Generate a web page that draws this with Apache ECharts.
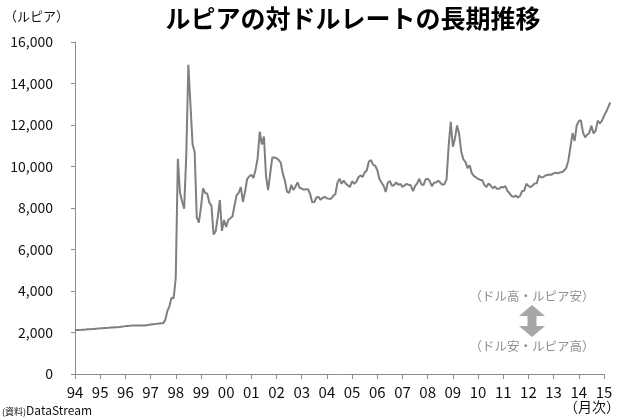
<!DOCTYPE html>
<html>
<head>
<meta charset="utf-8">
<style>
  html, body { margin: 0; padding: 0; background: #fff; }
  #chart { width: 622px; height: 419px; }
</style>
<script src="https://cdn.jsdelivr.net/npm/echarts@6/dist/echarts.min.js"></script>
</head>
<body>
<div id="chart"></div>
<script>
// Rupiah per US dollar, one value per month starting January 1994
const firstYear = 1994;
const rates1994to1999 = [
  2110, 2118, 2125, 2131, 2138, 2145, 2153, 2160, 2166, 2173, 2180, 2187,
  2200, 2207, 2215, 2222, 2228, 2237, 2242, 2251, 2257, 2264, 2275, 2284,
  2308, 2316, 2325, 2336, 2334, 2341, 2343, 2336, 2339, 2341, 2349, 2357,
  2383, 2396, 2406, 2419, 2433, 2442, 2450, 2599, 3035, 3275, 3670, 3648,
  4650, 10375, 8750, 8325, 7970, 10525, 14900, 13000, 11075, 10700, 7550, 7300,
  8025, 8950, 8730, 8685, 8260, 8105, 6726, 6875, 7565, 8386, 6900, 7425
];
const rates2000to2009 = [
  7085, 7425, 7505, 7590, 8130, 8620, 8735, 9003, 8290, 8780, 9395, 9530,
  9595, 9450, 9835, 10400, 11675, 11058, 11440, 9525, 8865, 9675, 10435, 10430,
  10400, 10320, 10189, 9655, 9316, 8785, 8730, 9108, 8867, 9015, 9233, 8976,
  8940, 8876, 8905, 8908, 8675, 8279, 8285, 8505, 8535, 8389, 8495, 8537,
  8465, 8441, 8447, 8587, 8661, 9210, 9415, 9168, 9328, 9170, 9090, 9018,
  9290, 9165, 9260, 9480, 9570, 9495, 9713, 9819, 10240, 10310, 10090, 10035,
  9830, 9395, 9230, 9075, 8775, 9220, 9300, 9070, 9100, 9235, 9110, 9165,
  9020, 9090, 9160, 9118, 9083, 8815, 9054, 9186, 9410, 9137, 9103, 9376,
  9419, 9291, 9051, 9217, 9234, 9318, 9225, 9118, 9153, 9378, 10995, 12151,
  10950, 11355, 11980, 11575, 10713, 10340, 10225, 9920, 10060, 9681, 9545, 9480
];
const rates2010to2015 = [
  9400, 9365, 9335, 9115, 9012, 9180, 9083, 8952, 9041, 8924, 8928, 9013,
  8991, 9057, 8823, 8709, 8574, 8537, 8597, 8508, 8578, 8823, 8835, 9170,
  9068, 9000, 9085, 9180, 9190, 9565, 9480, 9485, 9560, 9588, 9615, 9605,
  9670, 9698, 9667, 9719, 9722, 9802, 9929, 10278, 10924, 11613, 11234, 11977,
  12189, 12226, 11634, 11404, 11532, 11611, 11969, 11591, 11717, 12212, 12082, 12196,
  12440, 12625, 12863, 13084
];
const yAxisRange = [0, 16000, 2000];
const xAxisRange = [1994, 2015, 1];

const allRates = rates1994to1999.concat(rates2000to2009, rates2010to2015);
const seriesData = allRates.map((v, i) => [firstYear + i / 12, v]);
const lastX = seriesData[seriesData.length - 1][0];

const FONT = '"Noto Sans CJK JP", "Noto Sans", sans-serif';
const axisGray = '#8c8c8c';

// plot area: the visible axes end at 2015; the line itself runs a few months past it
const plotLeft = 75, plotTop = 42, plotBottom = 45, axisRight = 18;
const pxPerYear = (622 - plotLeft - axisRight) / (xAxisRange[1] - xAxisRange[0]);
const lineRight = axisRight - (lastX - xAxisRange[1]) * pxPerYear;

// double-headed vertical arrow between the two annotation captions
const arrowCx = 532, arrowTop = 305, arrowBottom = 337;
const headW = 13, headH = 11, shaftW = 4.5;
const arrowPoints = [
  [arrowCx, arrowTop],
  [arrowCx + headW, arrowTop + headH],
  [arrowCx + shaftW, arrowTop + headH],
  [arrowCx + shaftW, arrowBottom - headH],
  [arrowCx + headW, arrowBottom - headH],
  [arrowCx, arrowBottom],
  [arrowCx - headW, arrowBottom - headH],
  [arrowCx - shaftW, arrowBottom - headH],
  [arrowCx - shaftW, arrowTop + headH],
  [arrowCx - headW, arrowTop + headH]
];

const chart = echarts.init(document.getElementById('chart'), null, { renderer: 'canvas' });
chart.setOption({
  animation: false,
  backgroundColor: '#ffffff',
  grid: [
    { left: plotLeft, right: axisRight, top: plotTop, bottom: plotBottom, containLabel: false },
    { left: plotLeft, right: lineRight, top: plotTop, bottom: plotBottom, containLabel: false }
  ],
  xAxis: [{
    type: 'value',
    gridIndex: 0,
    min: xAxisRange[0],
    max: xAxisRange[1],
    interval: xAxisRange[2],
    axisLine: { show: true, lineStyle: { color: axisGray, width: 1 } },
    axisTick: { show: true, length: 5, lineStyle: { color: axisGray } },
    splitLine: { show: false },
    axisLabel: {
      margin: 11,
      color: '#111',
      fontSize: 15,
      fontFamily: FONT,
      formatter: v => String(Math.round(v) % 100).padStart(2, '0')
    }
  }, {
    type: 'value',
    gridIndex: 1,
    min: xAxisRange[0],
    max: lastX,
    show: false
  }],
  yAxis: [{
    type: 'value',
    gridIndex: 0,
    min: yAxisRange[0],
    max: yAxisRange[1],
    interval: yAxisRange[2],
    axisLine: { show: true, lineStyle: { color: axisGray, width: 1 } },
    axisTick: { show: true, length: 4, lineStyle: { color: axisGray } },
    splitLine: { show: false },
    axisLabel: {
      margin: 22,
      color: '#111',
      fontSize: 14,
      fontFamily: FONT,
      formatter: v => v.toLocaleString('en-US')
    }
  }, {
    type: 'value',
    gridIndex: 1,
    min: yAxisRange[0],
    max: yAxisRange[1],
    show: false
  }],
  series: [{
    type: 'line',
    xAxisIndex: 1,
    yAxisIndex: 1,
    data: seriesData,
    showSymbol: false,
    lineStyle: { color: '#7f7f7f', width: 2 },
    itemStyle: { color: '#7f7f7f' }
  }],
  graphic: [
    { type: 'text', x: 353, y: 18, style: {
      text: 'ルピアの対ドルレートの長期推移', fill: '#000', align: 'center', verticalAlign: 'middle',
      font: 'bold 25px ' + FONT } },
    { type: 'text', left: 4, top: 10, style: {
      text: '（ルピア）', fill: '#111', font: '13px ' + FONT } },
    { type: 'text', right: 2, top: 400, style: {
      text: '（月次）', fill: '#111', font: '14px ' + FONT } },
    { type: 'text', left: 2, top: 404, style: {
      text: '{s|(資料)}{b|DataStream}', fill: '#111',
      rich: {
        s: { fontSize: 9, fontFamily: FONT, fill: '#111', verticalAlign: 'bottom' },
        b: { fontSize: 12, fontFamily: FONT, fill: '#111' }
      } } },
    { type: 'text', x: 532, y: 296, style: {
      text: '（ドル高・ルピア安）', fill: '#8f8f8f', align: 'center', verticalAlign: 'middle',
      font: '12.5px ' + FONT } },
    { type: 'text', x: 532, y: 346, style: {
      text: '（ドル安・ルピア高）', fill: '#8f8f8f', align: 'center', verticalAlign: 'middle',
      font: '12.5px ' + FONT } },
    { type: 'polygon', shape: { points: arrowPoints }, style: { fill: '#a6a6a6' } }
  ]
});
</script>
</body>
</html>
